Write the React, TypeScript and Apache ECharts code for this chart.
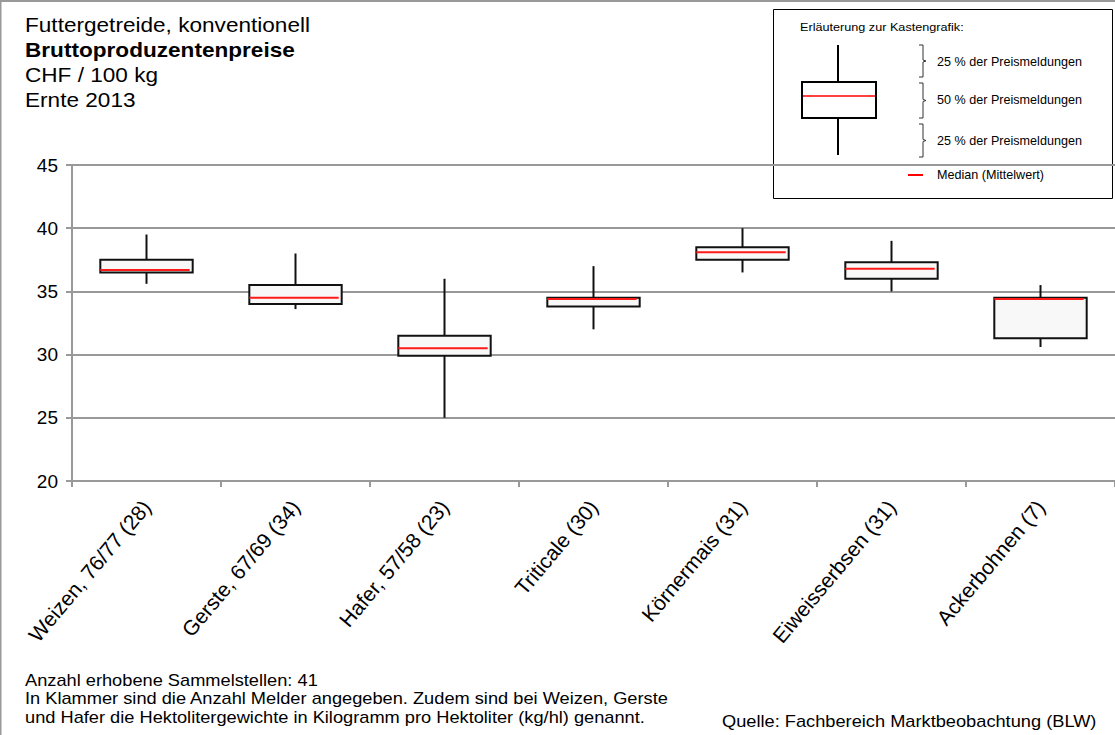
import React, { useEffect, useRef } from "react";
import * as echarts from "echarts";

const categories = [
  "Weizen, 76/77 (28)",
  "Gerste, 67/69 (34)",
  "Hafer, 57/58 (23)",
  "Triticale (30)",
  "Körnermais (31)",
  "Eiweisserbsen (31)",
  "Ackerbohnen (7)",
];
const whiskerLow = [35.6, 33.6, 25.0, 32.0, 36.5, 35.0, 30.6];
const q1 = [36.5, 34.0, 29.9, 33.8, 37.5, 36.0, 31.3];
const median = [36.7, 34.5, 30.5, 34.4, 38.1, 36.8, 34.4];
const q3 = [37.5, 35.5, 31.5, 34.5, 38.5, 37.3, 34.5];
const whiskerHigh = [39.5, 38.0, 36.0, 37.0, 40.0, 39.0, 35.5];
const yTicks = [20, 25, 30, 35, 40, 45];

const titleLines = ["Futtergetreide, konventionell", "Bruttoproduzentenpreise", "CHF / 100 kg", "Ernte 2013"];
const footerLines = [
  "Anzahl erhobene Sammelstellen: 41",
  "In Klammer sind die Anzahl Melder angegeben. Zudem sind bei Weizen, Gerste",
  "und Hafer die Hektolitergewichte in Kilogramm pro Hektoliter (kg/hl) genannt.",
];
const sourceText = "Quelle: Fachbereich Marktbeobachtung (BLW)";
const legendTitle = "Erläuterung zur Kastengrafik:";
const legendLabels = ["25 % der Preismeldungen", "50 % der Preismeldungen", "25 % der Preismeldungen", "Median (Mittelwert)"];

const FONT = "'Liberation Sans', Arial, sans-serif";

export default function App() {
  const ref = useRef<HTMLDivElement>(null);
  useEffect(() => {
    document.body.style.margin = "0";
    const chart = echarts.init(ref.current!, null, { renderer: "svg" });
    const data = categories.map((_, i) => [i, whiskerLow[i], q1[i], median[i], q3[i], whiskerHigh[i]]);

    const bracket = (x: number, y1: number, y2: number) => ({
      type: "polyline",
      shape: {
        points: [
          [x, y1],
          [x + 4, y1],
          [x + 4, (y1 + y2) / 2 - 1],
          [x + 7, (y1 + y2) / 2],
          [x + 4, (y1 + y2) / 2 + 1],
          [x + 4, y2],
          [x, y2],
        ],
      },
      style: { stroke: "#333", fill: null, lineWidth: 1 },
    });

    const txt = (t: string, x: number, y: number, size: number, sx: number, bold = false) => ({
      type: "text",
      x,
      y,
      scaleX: sx,
      style: {
        text: t,
        fontSize: size,
        fontWeight: bold ? "bold" : "normal",
        fontFamily: FONT,
        fill: "#000",
        verticalAlign: "middle",
        align: "left",
      },
    });

    chart.setOption({
      animation: false,
      backgroundColor: "#fff",
      grid: { left: 72, right: 0, top: 165, bottom: 254, containLabel: false },
      xAxis: {
        type: "category",
        data: categories,
        boundaryGap: true,
        axisLine: { lineStyle: { color: "#999", width: 2 } },
        axisTick: { show: true, interval: 0, length: 6, lineStyle: { color: "#999", width: 2 } },
        axisLabel: {
          interval: 0,
          rotate: 50,
          color: "#000",
          fontSize: 21,
          fontFamily: FONT,
          margin: 22,
        },
      },
      yAxis: {
        type: "value",
        min: 20,
        max: 45,
        interval: 5,
        axisLine: { show: true, lineStyle: { color: "#999", width: 2 } },
        axisTick: { show: true, length: 6, lineStyle: { color: "#999", width: 2 } },
        splitLine: { show: true, lineStyle: { color: "#999", width: 2 } },
        axisLabel: {
          color: "#000",
          fontSize: 19,
          fontFamily: FONT,
          margin: 14,
          formatter: (v: number) => (yTicks.includes(v) ? String(v) : ""),
        },
      },
      series: [
        {
          type: "custom",
          data,
          renderItem: (params: any, api: any) => {
            const idx = api.value(0);
            const lo = api.coord([idx, api.value(1)]);
            const b1 = api.coord([idx, api.value(2)]);
            const md = api.coord([idx, api.value(3)]);
            const b3 = api.coord([idx, api.value(4)]);
            const hi = api.coord([idx, api.value(5)]);
            const band = api.size([1, 0])[0];
            const w = band * 0.62;
            const x = lo[0];
            return {
              type: "group",
              children: [
                { type: "line", shape: { x1: x, y1: hi[1], x2: x, y2: b3[1] }, style: { stroke: "#111", lineWidth: 2 } },
                { type: "line", shape: { x1: x, y1: b1[1], x2: x, y2: lo[1] }, style: { stroke: "#111", lineWidth: 2 } },
                {
                  type: "rect",
                  shape: { x: x - w / 2, y: b3[1], width: w, height: b1[1] - b3[1] },
                  style: { fill: "#f8f8f8", stroke: "#111", lineWidth: 2 },
                },
                {
                  type: "line",
                  shape: { x1: x - w / 2, y1: md[1], x2: x + w / 2 - 3, y2: md[1] },
                  style: { stroke: "#ff1a1a", lineWidth: 2 },
                },
              ],
            };
          },
        },
      ],
      graphic: [
        {
          type: "rect",
          shape: { x: 0.5, y: 1, width: 1200, height: 800 },
          style: { fill: null, stroke: "#999", lineWidth: 2 },
          z: 0,
        },
        ...titleLines.map((t, i) => txt(t, 25, 25 + i * 25, 20, 1.13, i === 1)),
        ...footerLines.map((t, i) => txt(t, 25, 680 + i * 18.5, 16, 1.14)),
        txt(sourceText, 722, 721, 16, 1.14),
        {
          type: "group",
          z: 10,
          children: [
            {
              type: "rect",
              shape: { x: 773.5, y: 9.5, width: 339, height: 189 },
              style: { fill: "#fff", stroke: "#000", lineWidth: 1 },
            },
            txt(legendTitle, 800, 27, 11.5, 1.1),
            { type: "line", shape: { x1: 838, y1: 45, x2: 838, y2: 155 }, style: { stroke: "#000", lineWidth: 2 } },
            {
              type: "rect",
              shape: { x: 802, y: 82, width: 74, height: 36 },
              style: { fill: "#fff", stroke: "#000", lineWidth: 2 },
            },
            { type: "line", shape: { x1: 803, y1: 96, x2: 875, y2: 96 }, style: { stroke: "#ff0000", lineWidth: 1.5 } },
            bracket(919, 45, 77),
            bracket(919, 83, 118),
            bracket(919, 124, 157),
            ...legendLabels.slice(0, 3).map((t, i) => txt(t, 937, [62, 100, 141][i], 12, 1.05)),
            { type: "line", shape: { x1: 908, y1: 175, x2: 923, y2: 175 }, style: { stroke: "#ff0000", lineWidth: 2 } },
            txt(legendLabels[3], 937, 175, 12, 1.05),
          ],
        },
      ],
    });
    return () => chart.dispose();
  }, []);
  return <div ref={ref} style={{ position: "absolute", left: 0, top: 0, width: 1115, height: 735 }} />;
}
